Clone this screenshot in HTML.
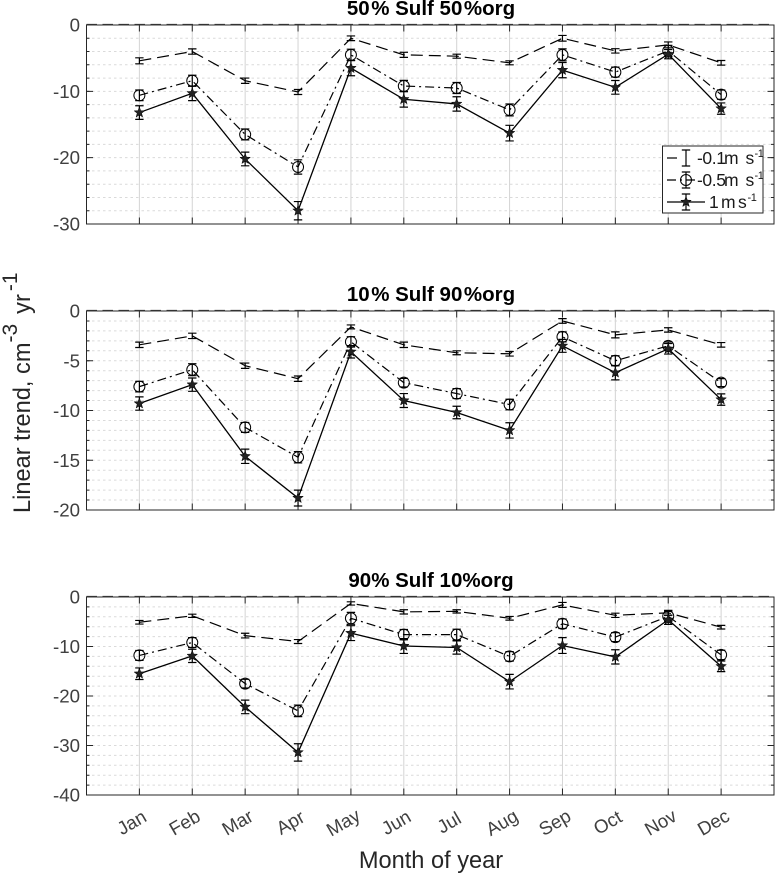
<!DOCTYPE html>
<html lang="en">
<head>
<meta charset="utf-8">
<title>Linear trend by month of year</title>
<style>
html,body{margin:0;padding:0;background:#fff;width:775px;height:873px;overflow:hidden}
svg{display:block;font-family:"Liberation Sans",Arial,sans-serif}
</style>
</head>
<body>
<svg id="chart" xmlns="http://www.w3.org/2000/svg" width="775" height="873" viewBox="0 0 775 873">
  <rect x="0" y="0" width="775" height="873" fill="#fff"/>
  <g id="panels"></g>
  <text transform="translate(30,513) rotate(-90)" font-size="23.6" fill="#262626">Linear trend, cm<tspan dy="-13" font-size="21">-3</tspan><tspan dy="13" dx="10">yr</tspan><tspan dy="-13" dx="3" font-size="21">-1</tspan></text>
  <text x="431" y="868" font-size="23.6" fill="#262626" text-anchor="middle">Month of year</text>
  <g id="legend"></g>
</svg>
<script>
const months = ['Jan','Feb','Mar','Apr','May','Jun','Jul','Aug','Sep','Oct','Nov','Dec'];

const titleLeft = ['50', '10', '90'];
const titleRight = ['50', '90', '10'];
const titleGaps = [1.5, 1.5, 0];
const yMins = [-30, -20, -40];
const yMajorSteps = [10, 5, 10];
const yMinorSteps = [2, 1, 2];

const p1Slow = [-5.4,-4.0,-8.4,-10.1,-2.0,-4.5,-4.7,-5.7,-2.0,-3.9,-3.0,-5.7];
const p1Mid = [-10.6,-8.4,-16.5,-21.4,-4.5,-9.2,-9.5,-12.8,-4.5,-7.1,-3.9,-10.5];
const p1Fast = [-13.2,-10.3,-20.2,-28.0,-6.5,-11.2,-11.9,-16.3,-6.8,-9.4,-4.4,-12.6];
const p1SlowErr = [0.45,0.4,0.4,0.38,0.35,0.38,0.3,0.3,0.43,0.33,0.45,0.35];
const p1MidErr = [0.8,0.83,0.83,1.08,0.85,0.85,0.83,0.9,0.9,0.75,0.83,0.7];
const p1FastErr = [1.03,1.1,1.03,1.38,1.15,1.18,1.08,1.18,1.15,1.03,0.7,0.85];

const p2Slow = [-3.4,-2.5,-5.5,-6.8,-1.6,-3.4,-4.2,-4.3,-1.0,-2.4,-1.9,-3.4];
const p2Mid = [-7.6,-5.9,-11.7,-14.7,-3.1,-7.2,-8.3,-9.4,-2.6,-5.0,-3.5,-7.2];
const p2Fast = [-9.3,-7.4,-14.6,-18.8,-4.1,-9.0,-10.2,-12.0,-3.5,-6.2,-3.8,-8.9];
const p2SlowErr = [0.27,0.27,0.27,0.27,0.2,0.27,0.2,0.23,0.23,0.3,0.22,0.23];
const p2MidErr = [0.53,0.6,0.5,0.57,0.52,0.43,0.5,0.53,0.5,0.5,0.4,0.4];
const p2FastErr = [0.67,0.67,0.72,0.8,0.62,0.7,0.63,0.77,0.65,0.72,0.53,0.57];

const p3Slow = [-5.1,-3.8,-7.8,-9.0,-1.3,-3.0,-2.9,-4.3,-1.6,-3.7,-3.2,-6.1];
const p3Mid = [-11.8,-9.2,-17.5,-23.0,-4.3,-7.6,-7.6,-12.0,-5.4,-8.1,-3.9,-11.7];
const p3Fast = [-15.5,-11.9,-22.2,-31.4,-7.3,-9.9,-10.2,-17.1,-9.8,-12.1,-4.6,-14.0];
const p3SlowErr = [0.37,0.33,0.47,0.4,0.33,0.43,0.33,0.37,0.5,0.43,0.5,0.37];
const p3MidErr = [1.0,1.0,0.87,1.17,1.2,1.03,1.1,0.97,0.97,0.9,1.0,0.94];
const p3FastErr = [1.17,1.33,1.37,1.75,1.5,1.5,1.34,1.47,1.6,1.44,0.94,1.07];

const panelSeries = [
  [p1Slow, p1Mid, p1Fast],
  [p2Slow, p2Mid, p2Fast],
  [p3Slow, p3Mid, p3Fast]
];
const panelErrors = [
  [p1SlowErr, p1MidErr, p1FastErr],
  [p2SlowErr, p2MidErr, p2FastErr],
  [p3SlowErr, p3MidErr, p3FastErr]
];
const seriesKeys = ['0-1-ms', '0-5-ms', '1-ms'];

const NS = 'http://www.w3.org/2000/svg';
const INK = '#262626';
const plotLeft = 86.5, plotRight = 774;
const plotTops = [25, 311, 597];
const plotBottoms = [224, 510, 795];
const xMax = 13;
const dashes = ['12 6', '9 4 2 4', 'none'];

function create(tag, attrs, parent) {
  const el = document.createElementNS(NS, tag);
  for (const k in attrs) el.setAttribute(k, attrs[k]);
  parent.appendChild(el);
  return el;
}
function xScale(m) { return plotLeft + (m / xMax) * (plotRight - plotLeft); }
function yScale(v, i) { return plotTops[i] + (v / yMins[i]) * (plotBottoms[i] - plotTops[i]); }
function starPoints(cx, cy, R) {
  const r = R * 0.42, pts = [];
  for (let k = 0; k < 10; k++) {
    const a = -Math.PI / 2 + k * Math.PI / 5, q = k % 2 ? r : R;
    pts.push((cx + q * Math.cos(a)).toFixed(2) + ',' + (cy + q * Math.sin(a)).toFixed(2));
  }
  return pts.join(' ');
}
function drawMarker(kind, cx, cy, parent) {
  if (kind === 1) {
    const c = create('circle', {cx: cx, cy: cy, r: 5.5, fill: 'none', stroke: '#000', 'stroke-width': 1}, parent);
    
    
  } else if (kind === 2) {
    const s = create('polygon', {points: starPoints(cx, cy, 5.5), fill: '#222', stroke: '#000', 'stroke-width': 0.5}, parent);
    
    
  }
}
function drawErrorBar(cx, yLow, yHigh, parent) {
  const bar = create('path', {
    d: 'M' + (cx - 4.2) + ' ' + yLow + 'H' + (cx + 4.2) + 'M' + (cx - 4.2) + ' ' + yHigh + 'H' + (cx + 4.2) + 'M' + cx + ' ' + yLow + 'V' + yHigh,
    fill: 'none', stroke: '#000', 'stroke-width': 1.2
  }, parent);
  
  
}

const panelsRoot = document.getElementById('panels');
titleLeft.forEach(function (leftPct, i) {
  const g = create('g', {}, panelsRoot);
  
  

  const top = plotTops[i], bottom = plotBottoms[i];

  // dotted horizontal grid at every minor step (majors share the same look)
  for (let v = -yMinorSteps[i]; v > yMins[i]; v -= yMinorSteps[i]) {
    const y = yScale(v, i);
    const minor = create('line', {x1: plotLeft, x2: plotRight, y1: y, y2: y, stroke: '#dadada', 'stroke-width': 1, 'stroke-dasharray': '2.5 3'}, g);
    
    
    const tl = create('path', {d: 'M' + plotLeft + ' ' + y + 'h3M' + plotRight + ' ' + y + 'h-3', stroke: INK, 'stroke-width': 1, fill: 'none'}, g);
    
    
  }
  // major ticks + labels
  for (let v = 0; v >= yMins[i]; v -= yMajorSteps[i]) {
    const y = yScale(v, i);
    const t = create('path', {d: 'M' + plotLeft + ' ' + y + 'h6.5M' + plotRight + ' ' + y + 'h-6.5', stroke: INK, 'stroke-width': 1, fill: 'none'}, g);
    
    
    const lab = create('text', {x: 80, y: y + 6.5, 'font-size': 18.7, fill: '#404040', 'text-anchor': 'end'}, g);
    
    
    lab.textContent = String(v);
  }
  // vertical grid, ticks
  months.forEach(function (m, k) {
    const x = xScale(k + 1);
    const vg = create('line', {x1: x, x2: x, y1: top, y2: bottom, stroke: '#d4d4d4', 'stroke-width': 1}, g);
    
    
    const xt = create('path', {d: 'M' + x + ' ' + top + 'v6.5M' + x + ' ' + bottom + 'v-6.5', stroke: INK, 'stroke-width': 1, fill: 'none'}, g);
    
    
    if (i === 2) {
      const lab = create('text', {'font-size': 18.7, fill: '#404040', 'text-anchor': 'middle', transform: 'translate(' + (x - 4.5) + ',828) rotate(-30)'}, g);
      
      
      lab.textContent = m;
    }
  });
  // axes box
  const box = create('rect', {x: plotLeft, y: top, width: plotRight - plotLeft, height: bottom - top, fill: 'none', stroke: INK, 'stroke-width': 1}, g);
  
  
  // zero reference line
  const zero = create('line', {x1: plotLeft, x2: 770, y1: yScale(0, i) - 0.3, y2: yScale(0, i) - 0.3, stroke: '#333', 'stroke-width': 1.6, 'stroke-dasharray': '10.5 5.5'}, g);
  
  

  // series
  panelSeries[i].forEach(function (vals, s) {
    const sg = create('g', {}, g);
    
    
    const pts = vals.map(function (v, k) { return xScale(k + 1).toFixed(2) + ',' + yScale(v, i).toFixed(2); }).join(' ');
    const line = create('polyline', {points: pts, fill: 'none', stroke: '#000', 'stroke-width': s === 2 ? 1.3 : 1.2, 'stroke-dasharray': dashes[s]}, sg);
    
    
    vals.forEach(function (v, k) {
      const e = panelErrors[i][s][k];
      const cx = xScale(k + 1);
      drawErrorBar(cx, yScale(v - e, i), yScale(v + e, i), sg);
      drawMarker(s, cx, yScale(v, i), sg);
    });
  });

  // title
  const tt = create('text', {x: 431, y: top - 10, 'font-size': 20.5, 'font-weight': 'bold', fill: '#000', 'text-anchor': 'middle'}, g);
  
  
  tt.textContent = leftPct;
  const pctA = create('tspan', {dx: titleGaps[i]}, tt);
  
  
  pctA.textContent = '% Sulf ' + titleRight[i];
  const pctB = create('tspan', {dx: titleGaps[i]}, tt);
  
  
  pctB.textContent = '%org';
});

// legend
const legendRoot = document.getElementById('legend');
const legendBox = create('rect', {x: 662.5, y: 146, width: 100.5, height: 67, fill: '#fff', stroke: INK, 'stroke-width': 1}, legendRoot);


const legendLabels = ['-0.1', '-0.5', '1'];
const legendRows = [158, 180, 202];
const legendLabelX = [697, 697, 709];
const legendUnitM = [724, 724, 721];
const legendUnitS = [745.5, 745.5, 738];
const legendExp = [754.5, 754.5, 747.5];
const legendLineEnd = [677, 695, 705];
legendLabels.forEach(function (label, s) {
  const y = legendRows[s];
  const cx = 686;
  const row = create('g', {}, legendRoot);
  
  
  const ln = create('line', {x1: 667, x2: legendLineEnd[s], y1: y, y2: y, stroke: '#000', 'stroke-width': s === 2 ? 1.3 : 1.2, 'stroke-dasharray': dashes[s]}, row);
  
  
  drawErrorBar(cx, y + 8, y - 8, row);
  drawMarker(s, cx, y, row);
  const tx = create('text', {x: legendLabelX[s], y: y + 6, 'font-size': 17.5, fill: '#1a1a1a', 'letter-spacing': '-0.4'}, row);
  
  
  tx.textContent = label;
  const m = create('tspan', {x: legendUnitM[s]}, tx);
  
  
  m.textContent = 'm';
  const sec = create('tspan', {x: legendUnitS[s]}, tx);
  
  
  sec.textContent = 's';
  const sup = create('tspan', {x: legendExp[s], dy: -7, 'font-size': 11}, tx);
  
  
  sup.textContent = '-1';
});
</script>
</body>
</html>
